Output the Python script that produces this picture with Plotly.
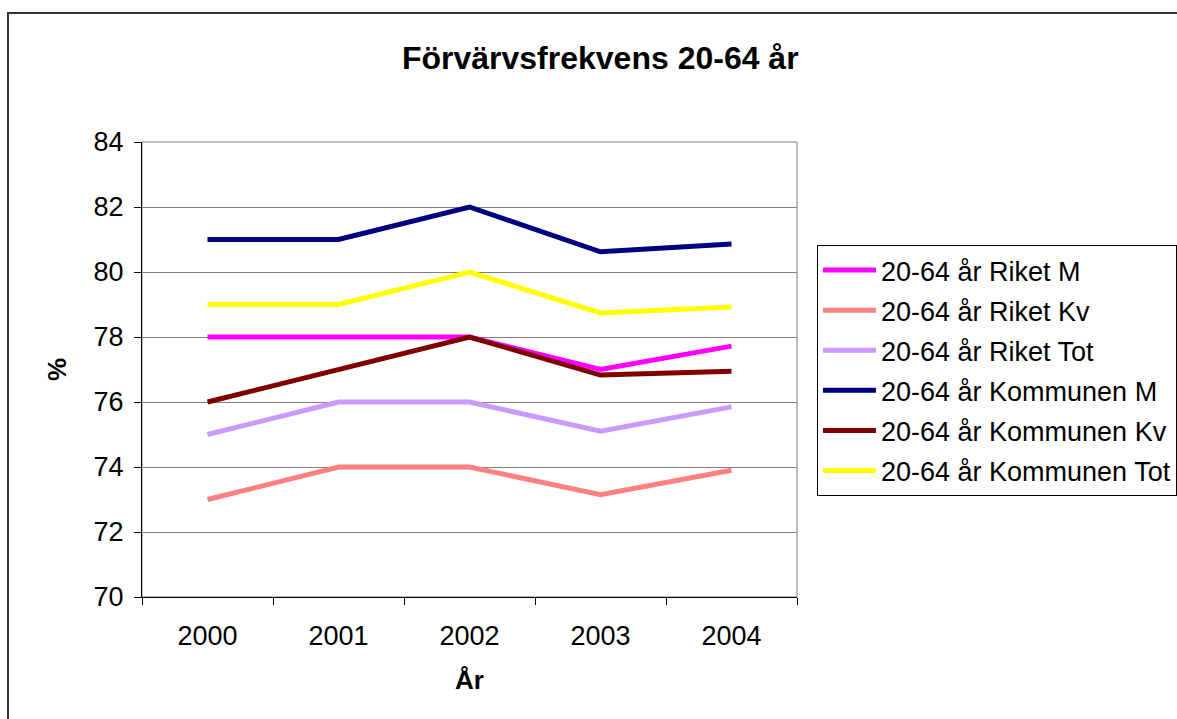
import plotly.graph_objects as go

years = ['2000', '2001', '2002', '2003', '2004']

riket_m = [78, 78, 78, 77.0, 77.72]
riket_kv = [73, 74, 74, 73.15, 73.9]
riket_tot = [75, 76, 76, 75.1, 75.85]
kommun_m = [81, 81, 82, 80.62, 80.86]
kommun_kv = [76, 77, 78, 76.83, 76.95]
kommun_tot = [79, 79, 80, 78.74, 78.92]

series = [
    ('20-64 år Riket M', riket_m, '#FF00FF'),
    ('20-64 år Riket Kv', riket_kv, '#FF8080'),
    ('20-64 år Riket Tot', riket_tot, '#CC99FF'),
    ('20-64 år Kommunen M', kommun_m, '#000080'),
    ('20-64 år Kommunen Kv', kommun_kv, '#800000'),
    ('20-64 år Kommunen Tot', kommun_tot, '#FFFF00'),
]

font = 'Arial, Liberation Sans, sans-serif'

fig = go.Figure()
for i, (name, vals, color) in enumerate(series):
    fig.add_trace(go.Scatter(x=years, y=vals, mode='lines', name=name,
                             legendgroup=str(i),
                             line=dict(color=color, width=5)))

# plot area frame (top/right grey) and outer chart border
fig.add_shape(type='rect', xref='paper', yref='paper', x0=0, y0=0, x1=1, y1=1,
              line=dict(color='#808080', width=1), layer='below')
fig.add_shape(type='rect', xref='paper', yref='paper', x0=-0.2046, y0=-0.5,
              x1=2.5, y1=1.2835, line=dict(color='#333333', width=2))

fig.update_layout(
    width=1177, height=719,
    margin=dict(l=142, r=380, t=142, b=122, autoexpand=False),
    paper_bgcolor='white', plot_bgcolor='white',
    font=dict(family=font, size=27, color='black'),
    title=dict(text='<b>Förvärvsfrekvens 20-64 år</b>', x=0.51, xanchor='center',
               y=0.92, yanchor='middle', font=dict(size=32)),
    xaxis=dict(type='category', range=[-0.5, 4.5], tickson='boundaries',
               ticks='outside', ticklen=7, tickcolor='black', showgrid=False,
               showline=True, linecolor='black', linewidth=1,
               ticklabelstandoff=15,
               title=dict(text='<b>År</b>', standoff=20, font=dict(size=26)),
               tickfont=dict(size=27)),
    yaxis=dict(range=[70, 84], dtick=2, ticks='outside', ticklen=7,
               tickcolor='black', showgrid=True, gridcolor='#808080', gridwidth=1,
               showline=True, linecolor='black', linewidth=1, zeroline=False,
               ticklabelstandoff=5,
               title=dict(text='<b>%</b>', standoff=19, font=dict(size=26)),
               tickfont=dict(size=27)),
    legend=dict(x=(817 - 142) / 655, y=(597 - 245) / 455, xanchor='left', yanchor='top',
                bordercolor='black', borderwidth=1, bgcolor='white',
                font=dict(size=27), itemwidth=53, tracegroupgap=2),
)

fig.write_html('out.html', config={'displayModeBar': False},
               post_script="document.body.style.margin='0';")
